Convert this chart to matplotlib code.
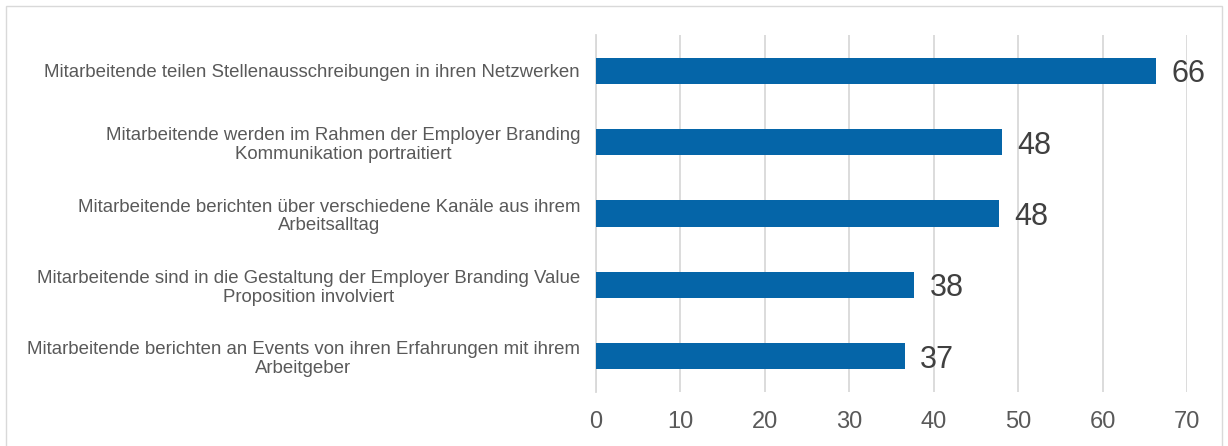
import matplotlib.pyplot as plt
from matplotlib.patches import Rectangle

plt.rcParams['font.family'] = ['Liberation Sans', 'DejaVu Sans']

# categories, top to bottom
labels = [
    "Mitarbeitende teilen Stellenausschreibungen in ihren Netzwerken",
    "Mitarbeitende werden im Rahmen der Employer Branding\nKommunikation portraitiert",
    "Mitarbeitende berichten über verschiedene Kanäle aus ihrem\nArbeitsalltag",
    "Mitarbeitende sind in die Gestaltung der Employer Branding Value\nProposition involviert",
    "Mitarbeitende berichten an Events von ihren Erfahrungen mit ihrem\nArbeitgeber",
]
values = [66.3, 48.05, 47.7, 37.7, 36.6]
xticks = [0, 10, 20, 30, 40, 50, 60, 70]

BLUE = '#0565a8'
GRID = '#d9d9d9'

fig = plt.figure(figsize=(12.28, 4.46), dpi=100)
ax = fig.add_axes([596/1228, 54/446, 591/1228, 357/446])

ys = range(len(labels))
ax.barh(ys, values, height=0.365, color=BLUE, zorder=3)
for y, v in zip(ys, values):
    ax.annotate(f"{v:.0f}", (v, y), xytext=(11, -2.5), textcoords='offset points',
                ha='left', va='center', fontsize=22, color='#404040',
                family=['Liberation Sans Narrow', 'Liberation Sans'])

ax.set_xlim(0, 70)
ax.set_ylim(len(labels) - 0.5, -0.5)
ax.set_xticks(xticks)
ax.set_yticks(list(ys))
ax.set_yticklabels(labels, multialignment='center', linespacing=1.15)
ax.tick_params(axis='y', length=0, pad=11.5, labelsize=13.4, labelcolor='#595959')
ax.tick_params(axis='x', length=0, pad=14, labelsize=17, labelcolor='#595959')
ax.grid(axis='x', color=GRID, linewidth=1.3, zorder=0)
for s in ['top', 'right', 'bottom']:
    ax.spines[s].set_visible(False)
ax.spines['left'].set_color(GRID)
ax.spines['left'].set_linewidth(1.3)

# chart frame
fig.patches.append(Rectangle((6/1228, -0.1), 1216/1228, 1.1 - 6/446,
                             transform=fig.transFigure, fill=False,
                             edgecolor=GRID, linewidth=1))

fig.savefig('out.png', dpi=100)
